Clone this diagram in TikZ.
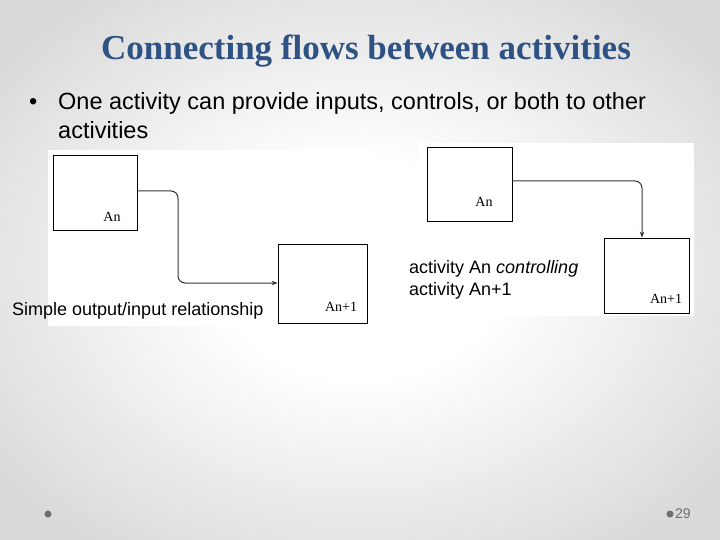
\documentclass[tikz,border=0pt]{standalone}
\usepackage{fontspec}
\setmainfont{Liberation Sans}
\newfontfamily\titlefont{Liberation Serif}
\newfontfamily\boxfont{Liberation Serif}
\usetikzlibrary{arrows.meta}
\definecolor{titleblue}{HTML}{2E5283}
\definecolor{edgegray}{HTML}{DADADA}
\definecolor{dotgray}{HTML}{6E6E6E}
\pgfdeclareradialshading{slidebg}{\pgfpoint{0cm}{0cm}}{%
  color(0cm)=(white); color(0.35cm)=(white); color(1.1cm)=(edgegray); color(2.2cm)=(edgegray)}
\tikzset{
  actbox/.style={draw=black, line width=0.7pt, fill=white, inner sep=0pt},
  boxlabel/.style={font=\boxfont\fontsize{14}{16}\selectfont, inner sep=0pt},
  flow/.style={draw=black!80, line width=1pt, rounded corners=7pt, -{Stealth[length=6pt,width=4.5pt]}},
  caption/.style={font=\fontsize{18}{22}\selectfont, inner sep=0pt, anchor=base west},
  bullettext/.style={font=\fontsize{23.5}{28}\selectfont, inner sep=0pt, anchor=base west},
  footdot/.style={fill=dotgray, draw=none, circle, minimum size=7pt, inner sep=0pt}
}
\begin{document}
\begin{tikzpicture}[x=1pt,y=-1pt]
\useasboundingbox (0,0) rectangle (720,540);
\shade[shading=slidebg] (0,0) rectangle (720,540);
% title
\node[font=\titlefont\bfseries\fontsize{35}{40}\selectfont, text=titleblue, inner sep=0pt, anchor=base] (title) at (366,60) {Connecting flows between activities};
% bullet
\node[bullettext] (bul) at (29,110) {\textbullet};
\node[bullettext] (bt1) at (58,110) {One activity can provide inputs, controls, or both to other};
\node[bullettext] (bt2) at (58,139) {activities};
% left picture
\fill[white] (48,150) rectangle (372,326);
\node[actbox, minimum width=84pt, minimum height=75pt] (a1) at (95,192.5) {};
\node[boxlabel] (a1l) at (112,217) {An};
\node[actbox, minimum width=89pt, minimum height=79pt] (b1) at (322.5,283.5) {};
\node[boxlabel] (b1l) at (341,307) {An+1};
\draw[flow] (a1.east |- 0,191) -| (178,283) -- (b1.west |- 0,283);
\node[caption] (cap1) at (12,315) {Simple output/input relationship};
% right picture
\fill[white] (418,143) rectangle (694,316);
\node[actbox, minimum width=85pt, minimum height=74pt] (a2) at (469.5,184) {};
\node[boxlabel] (a2l) at (484,202) {An};
\node[actbox, minimum width=85pt, minimum height=75pt] (b2) at (646.5,275.5) {};
\node[boxlabel] (b2l) at (666,299) {An+1};
\draw[flow] (a2.east |- 0,181) -| (b2.north -| 642,0);
\node[caption] (cap2a) at (409,273) {activity An \textit{controlling}};
\node[caption] (cap2b) at (409,295) {activity An+1};
% footer
\node[footdot] (d1) at (48,514) {};
\node[footdot] (d2) at (670,514) {};
\node[font=\fontsize{14}{16}\selectfont, text=dotgray, anchor=west, inner sep=0pt] (pg) at (675,514) {29};
\end{tikzpicture}
\end{document}
